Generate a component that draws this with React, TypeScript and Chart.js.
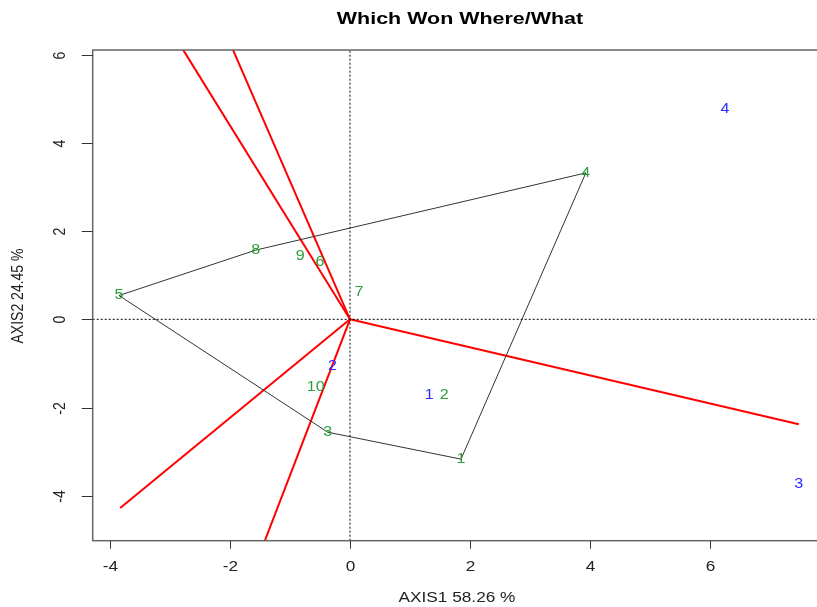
import React, { useEffect, useRef } from "react";
import { Chart, registerables } from "chart.js";

Chart.register(...registerables);

// Genotype (green) labels and positions
const genoLabels = ["1", "2", "3", "4", "5", "6", "7", "8", "9", "10"];
const genoX = [1.85, 1.57, -0.37, 3.93, -3.85, -0.5, 0.15, -1.57, -0.83, -0.57];
const genoY = [-3.17, -1.73, -2.56, 3.32, 0.54, 1.3, 0.62, 1.57, 1.43, -1.53];

// Environment (blue) labels and positions
const envLabels = ["1", "2", "3", "4"];
const envX = [1.32, -0.29, 7.48, 6.25];
const envY = [-1.72, -1.07, -3.73, 4.77];

// Convex hull order (genotype indices)
const hullOrder = [4, 7, 3, 0, 2, 4];

// Sector ray end points
const rayX = [-2.78, -1.95, 7.48, -3.83, -1.45];
const rayY = [6.11, 6.11, -2.38, -4.28, -5.13];

const xTicks = [-4, -2, 0, 2, 4, 6];
const yTicks = [-4, -2, 0, 2, 4, 6];

const X_MIN = -4.288;
const X_MAX = 7.783;
const Y_MIN = -5.02;
const Y_MAX = 6.107;

const FONT = "'Liberation Sans', Arial, sans-serif";
const STRETCH = 1.23;

function drawText(ctx: CanvasRenderingContext2D, s: string, x: number, y: number, rot: number, sx: number) {
  ctx.save();
  ctx.translate(x, y);
  ctx.scale(sx, 1);
  if (rot) ctx.rotate(rot);
  ctx.fillText(s, 0, 0);
  ctx.restore();
}

export default function App() {
  const ref = useRef<HTMLCanvasElement | null>(null);

  useEffect(() => {
    if (!ref.current) return;
    const datasets: any[] = [];

    // reference dotted lines
    datasets.push({
      data: [{ x: 0, y: Y_MIN }, { x: 0, y: Y_MAX }],
      borderColor: "#000",
      borderWidth: 1,
      borderDash: [2, 2],
      pointRadius: 0,
    });
    datasets.push({
      data: [{ x: X_MIN, y: 0 }, { x: X_MAX, y: 0 }],
      borderColor: "#000",
      borderWidth: 1,
      borderDash: [2, 2],
      pointRadius: 0,
    });

    // hull polygon
    datasets.push({
      data: hullOrder.map((i) => ({ x: genoX[i], y: genoY[i] })),
      borderColor: "#333",
      borderWidth: 1,
      pointRadius: 0,
    });

    // rays
    rayX.forEach((rx, i) => {
      datasets.push({
        data: [{ x: 0, y: 0 }, { x: rx, y: rayY[i] }],
        borderColor: "#ff0000",
        borderWidth: 2,
        pointRadius: 0,
      });
    });

    const labelPlugin = {
      id: "labels",
      afterDatasetsDraw(chart: any) {
        const { ctx, scales } = chart;
        const xs = scales.x;
        const ys = scales.y;
        ctx.save();
        ctx.font = `14px ${FONT}`;
        ctx.textAlign = "center";
        ctx.textBaseline = "middle";
        ctx.fillStyle = "#2a9f3a";
        genoLabels.forEach((l, i) => {
          drawText(ctx, l, xs.getPixelForValue(genoX[i]), ys.getPixelForValue(genoY[i]), 0, 1.15);
        });
        ctx.fillStyle = "#2a2aff";
        envLabels.forEach((l, i) => {
          drawText(ctx, l, xs.getPixelForValue(envX[i]), ys.getPixelForValue(envY[i]), 0, 1.15);
        });
        ctx.restore();
      },
      afterDraw(chart: any) {
        const { ctx, scales, chartArea } = chart;
        const xs = scales.x;
        const ys = scales.y;
        ctx.save();
        // box
        ctx.strokeStyle = "#666";
        ctx.lineWidth = 1.5;
        ctx.strokeRect(chartArea.left, chartArea.top, chartArea.right - chartArea.left + 5, chartArea.bottom - chartArea.top);
        // x ticks
        ctx.lineWidth = 1;
        ctx.strokeStyle = "#333";
        ctx.fillStyle = "#222";
        ctx.font = `14px ${FONT}`;
        ctx.textAlign = "center";
        ctx.textBaseline = "middle";
        xTicks.forEach((t) => {
          const px = Math.round(xs.getPixelForValue(t)) + 0.5;
          ctx.beginPath();
          ctx.moveTo(px, chartArea.bottom);
          ctx.lineTo(px, chartArea.bottom + 8);
          ctx.stroke();
          drawText(ctx, String(t), px, 567, 0, STRETCH);
        });
        // y ticks (rotated labels)
        yTicks.forEach((t) => {
          const py = Math.round(ys.getPixelForValue(t)) + 0.5;
          ctx.beginPath();
          ctx.moveTo(chartArea.left, py);
          ctx.lineTo(chartArea.left - 11, py);
          ctx.stroke();
          drawText(ctx, String(t), 60.5, py, -Math.PI / 2, STRETCH);
        });
        // axis titles
        drawText(ctx, "AXIS1 58.26 %", 457, 598, 0, STRETCH);
        drawText(ctx, "AXIS2 24.45 %", 18, 296, -Math.PI / 2, STRETCH);
        // title
        ctx.fillStyle = "#000";
        ctx.font = `bold 16.5px ${FONT}`;
        drawText(ctx, "Which Won Where/What", 460, 19, 0, 1.3);
        ctx.restore();
      },
    };

    const chart = new Chart(ref.current, {
      type: "line",
      data: { datasets },
      options: {
        responsive: false,
        animation: false,
        devicePixelRatio: 1,
        layout: { padding: { left: 92.7, top: 50, right: 0, bottom: 66.3 } },
        plugins: { legend: { display: false }, tooltip: { enabled: false }, title: { display: false } },
        scales: {
          x: { type: "linear", min: X_MIN, max: X_MAX, display: false },
          y: { type: "linear", min: Y_MIN, max: Y_MAX, display: false },
        },
      },
      plugins: [labelPlugin],
    });
    return () => chart.destroy();
  }, []);

  return (
    <div style={{ position: "absolute", left: 0, top: 0, width: 817, height: 607, background: "#fff" }}>
      <canvas ref={ref} width={817} height={607} style={{ display: "block" }} />
    </div>
  );
}
